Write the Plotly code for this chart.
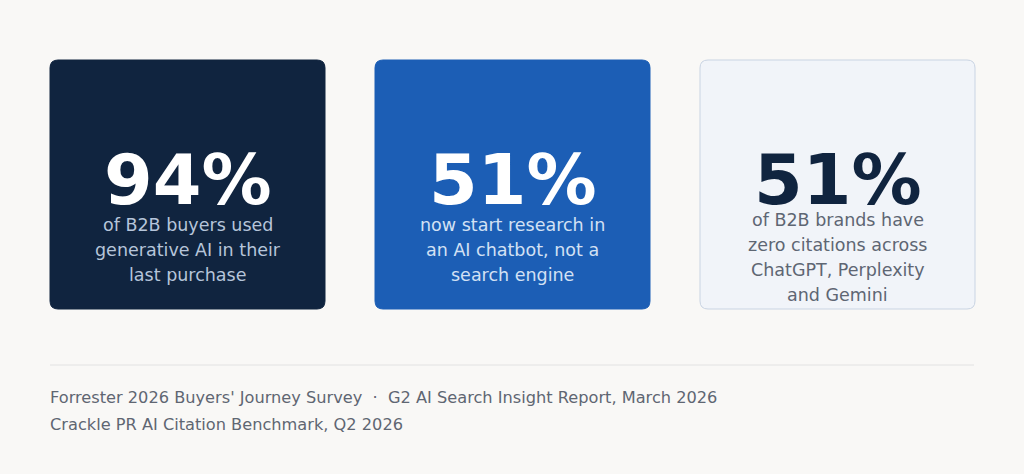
import plotly.graph_objects as go

# stat cards
stat_values = ["94%", "51%", "51%"]
stat_captions = [
    ["of B2B buyers used", "generative AI in their", "last purchase"],
    ["now start research in", "an AI chatbot, not a", "search engine"],
    ["of B2B brands have", "zero citations across", "ChatGPT, Perplexity", "and Gemini"],
]
sources = [
    "Forrester 2026 Buyers' Journey Survey  \u00b7  G2 AI Search Insight Report, March 2026",
    "Crackle PR AI Citation Benchmark, Q2 2026",
]

W, H = 1024, 474
BG = "#f9f8f6"
FONT = "DejaVu Sans"

card_fill = ["#10243f", "#1c5eb5", "#f1f4f9"]
card_line = ["#10243f", "#1c5eb5", "#c9d4e3"]
num_color = ["#ffffff", "#ffffff", "#10243f"]
cap_color = ["#b6c5da", "#d3e1f4", "#5e6673"]


def rounded_rect(x0, y0, x1, y1, r):
    return (f"M {x0 + r},{y0} L {x1 - r},{y0} Q {x1},{y0} {x1},{y0 + r} "
            f"L {x1},{y1 - r} Q {x1},{y1} {x1 - r},{y1} "
            f"L {x0 + r},{y1} Q {x0},{y1} {x0},{y1 - r} "
            f"L {x0},{y0 + r} Q {x0},{y0} {x0 + r},{y0} Z")


fig = go.Figure()
shapes = []
annotations = []

card_w, gap = 275, 50
top, bottom = 60, 309
for i, val in enumerate(stat_values):
    x0 = 50 + i * (card_w + gap)
    x1 = x0 + card_w
    cx = (x0 + x1) / 2
    shapes.append(dict(type="path", path=rounded_rect(x0, top, x1, bottom, 8),
                       fillcolor=card_fill[i], line=dict(color=card_line[i], width=1),
                       xref="x", yref="y", layer="below"))
    lines = stat_captions[i]
    # a 4-line caption sits a little higher
    shift = (len(lines) - 3) * 5
    annotations.append(dict(x=cx, y=180, text=f"<b>{val}</b>", showarrow=False,
                            xref="x", yref="y", xanchor="center", yanchor="middle",
                            font=dict(family=FONT, size=70, color=num_color[i])))
    for j, ln in enumerate(lines):
        annotations.append(dict(x=cx, y=225 - shift + j * 25, text=ln, showarrow=False,
                                xref="x", yref="y", xanchor="center", yanchor="middle",
                                font=dict(family=FONT, size=17.5, color=cap_color[i])))

# divider
shapes.append(dict(type="line", x0=50, x1=974, y0=365, y1=365, xref="x", yref="y",
                   line=dict(color="#e2e2e2", width=1)))

for k, s in enumerate(sources):
    annotations.append(dict(x=48, y=397 + k * 27, text=s, showarrow=False,
                            xref="x", yref="y", xanchor="left", yanchor="middle",
                            font=dict(family=FONT, size=16.2, color="#5f6672")))

fig.update_layout(
    width=W, height=H,
    margin=dict(l=0, r=0, t=0, b=0),
    paper_bgcolor=BG, plot_bgcolor=BG,
    xaxis=dict(range=[0, W], visible=False, fixedrange=True),
    yaxis=dict(range=[H, 0], visible=False, fixedrange=True),
    shapes=shapes, annotations=annotations,
    showlegend=False,
)

fig.write_html("out.html", config={"displayModeBar": False},
               post_script="document.body.style.margin='0';")
